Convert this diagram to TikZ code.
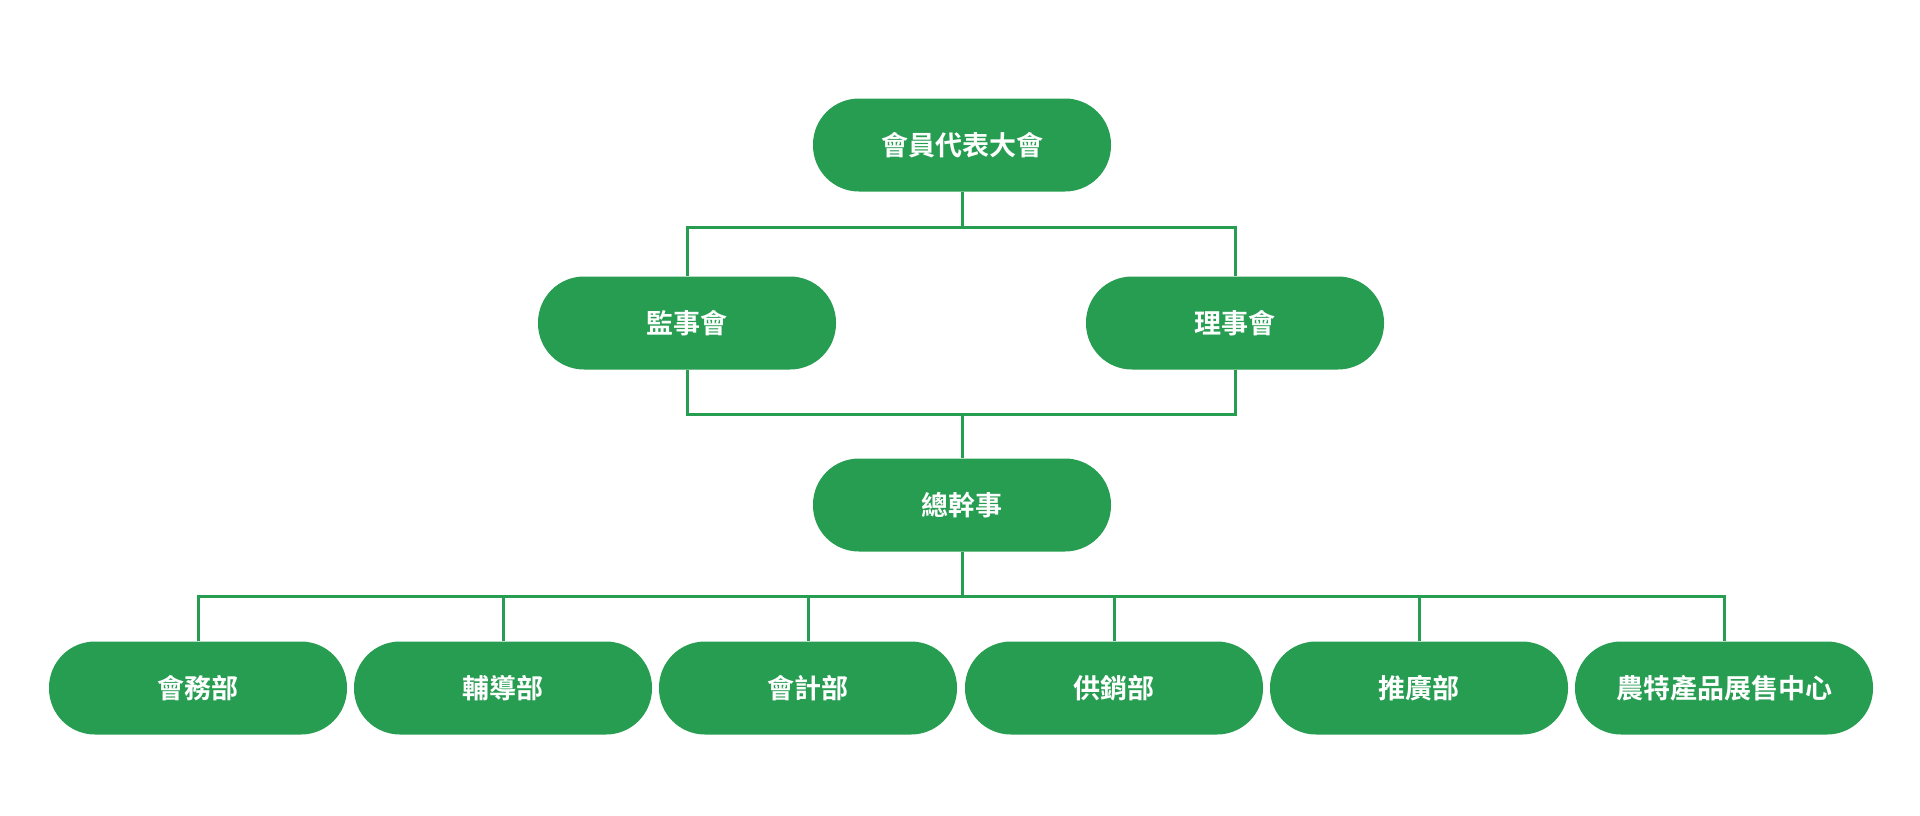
\documentclass[tikz,border=0pt]{standalone}
\usepackage{fontspec}
\usetikzlibrary{positioning}
\newfontfamily\cjk{Noto Sans CJK TC}[BoldFont={Noto Sans CJK TC Bold}]
\definecolor{orggreen}{RGB}{39,157,82}

\begin{document}
\begin{tikzpicture}[x=1pt, y=-1pt,
    unit/.style={rectangle, fill=orggreen, rounded corners=46pt, minimum width=298pt, minimum height=93pt, font=\cjk\bfseries\fontsize{27}{30}\selectfont, text=white, inner sep=0pt},
    link/.style={draw=orggreen, line width=3pt}
]
    \useasboundingbox (0,0) rectangle (1920,815);
    \node[unit] (assembly) at (962,145) {會員代表大會};
    \node[unit] (supervisor) at (687,323) {監事會};
    \node[unit] (board) at (1235,323) {理事會};
    \node[unit] (manager) at (962,505) {總幹事};
    \node[unit] (affairs) at (198,688) {會務部};
    \node[unit] (guidance) at (503,688) {輔導部};
    \node[unit] (account) at (808,688) {會計部};
    \node[unit] (supply) at (1114,688) {供銷部};
    \node[unit] (extension) at (1419,688) {推廣部};
    \node[unit] (market) at (1724,688) {農特產品展售中心};

    \draw[link] (assembly.south) -- ++(0,36) coordinate (topbus);
    \draw[link] (topbus) -| (supervisor.north);
    \draw[link] (topbus) -| (board.north);
    \draw[link] (supervisor.south) |- (manager.north |- 0,414) coordinate (midbus);
    \draw[link] (board.south) |- (midbus);
    \draw[link] (midbus) -- (manager.north);
    \draw[link] (manager.south) -- ++(0,45) coordinate (lowbus);
    \foreach \dept in {affairs,guidance,account,supply,extension,market}
        \draw[link] (lowbus) -| (\dept.north);
\end{tikzpicture}
\end{document}
